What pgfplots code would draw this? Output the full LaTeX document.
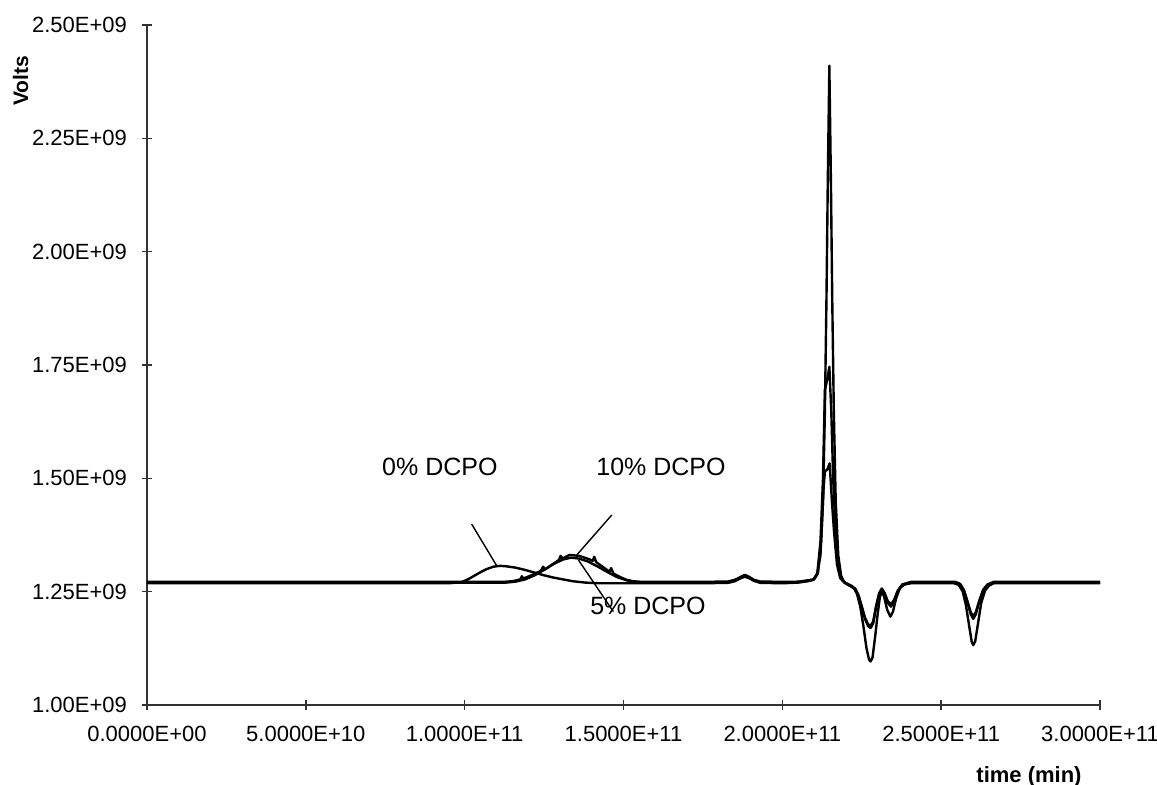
\documentclass[border=0pt]{standalone}
\usepackage{pgfplots}
\pgfplotsset{compat=1.18}
\usepackage{fontspec}
\setmainfont{Liberation Sans}
\begin{document}
\begin{tikzpicture}
\begin{axis}[
  scale only axis,
  width=476.5pt, height=340pt,
  xmin=0, xmax=300, ymin=1.0, ymax=2.5,
  axis lines=left,
  axis line style={-, line width=0.7pt, black!80},
  xtick={0,50,100,150,200,250,300},
  xticklabels={0.0000E+00,5.0000E+10,1.0000E+11,1.5000E+11,2.0000E+11,2.5000E+11,3.0000E+11},
  ytick={1.0,1.25,1.5,1.75,2.0,2.25,2.5},
  yticklabels={1.00E+09,1.25E+09,1.50E+09,1.75E+09,2.00E+09,2.25E+09,2.50E+09},
  tick align=center,
  major tick length=5pt,
  tick style={line width=0.7pt, black!80},
  ticklabel style={font=\fontsize{11}{13}\selectfont},
  yticklabel style={xshift=-4pt},
  xticklabel style={yshift=-4.5pt},
  /pgf/number format/assume math mode=true,
  clip=false,
]
% 0% DCPO
\addplot[black, line width=1.2pt, line join=round] coordinates {
(0,1.2685) (50,1.2685) (95,1.2685) (99,1.271) (101,1.277) (103,1.285) (105,1.293) (107,1.300) (109,1.305) (111,1.307) (113,1.306) (116,1.303) (119,1.298) (122,1.292) (125,1.286) (128,1.281) (131,1.277) (134,1.273) (138,1.270) (142,1.2685) (150,1.2685) (160,1.2685) (175,1.2685) (183,1.2695) (185,1.273) (187,1.280) (188.2,1.283) (189.5,1.280) (191,1.274) (193,1.2695) (200,1.2685) (205,1.270) (208,1.273) (209.8,1.276) (211,1.29) (212,1.33) (212.8,1.45) (213.4,1.65) (213.9,1.9) (214.3,2.15) (214.8,2.41) (215.3,2.15) (215.7,1.9) (216.2,1.65) (216.8,1.45) (217.6,1.33) (218.5,1.285) (219.5,1.27) (221.5,1.262) (222.5,1.258) (223.5,1.245) (224.5,1.218) (225.5,1.175) (226.5,1.125) (227.3,1.1) (227.8,1.096) (228.4,1.105) (229.2,1.15) (230,1.2) (230.7,1.238) (231.3,1.25) (232,1.24) (233,1.21) (234,1.195) (234.8,1.205) (235.8,1.235) (237,1.258) (238.5,1.266) (240.5,1.2685) (254,1.2685) (255.5,1.265) (256.8,1.25) (257.8,1.22) (258.8,1.175) (259.6,1.14) (260.1,1.132) (260.7,1.14) (261.6,1.18) (262.6,1.225) (263.8,1.252) (265,1.263) (266.5,1.2685) (270,1.2685) (300,1.2685)
};
% 5% DCPO
\addplot[black, line width=1.2pt, line join=round] coordinates {
(0,1.270) (100,1.270) (113,1.270) (116,1.272) (119,1.277) (122,1.286) (125,1.298) (128,1.311) (131,1.321) (133.5,1.325) (136,1.323) (139,1.316) (142,1.305) (145,1.293) (148,1.282) (151,1.275) (154,1.271) (158,1.270) (175,1.270) (183,1.271) (185,1.275) (187,1.283) (188.2,1.287) (189.5,1.283) (191,1.276) (193,1.271) (200,1.270) (205,1.271) (208,1.274) (209.8,1.277) (211,1.29) (212,1.36) (212.8,1.5) (213.4,1.695) (214.2,1.72) (214.8,1.746) (215.4,1.65) (216,1.5) (216.8,1.38) (217.8,1.3) (218.8,1.275) (220,1.268) (221.8,1.261) (223,1.255) (224,1.24) (225,1.215) (226,1.19) (227,1.174) (227.8,1.170) (228.6,1.18) (229.5,1.215) (230.5,1.245) (231.3,1.255) (232.2,1.245) (233.2,1.225) (234.2,1.217) (235.2,1.228) (236.3,1.25) (237.8,1.265) (240.5,1.270) (254.5,1.270) (256,1.266) (257.2,1.252) (258.3,1.228) (259.3,1.205) (260.1,1.195) (260.9,1.205) (262,1.23) (263.2,1.253) (264.6,1.265) (266.5,1.270) (270,1.270) (300,1.270)
};
% 10% DCPO
\addplot[black, line width=1.2pt, line join=round] coordinates {
(0,1.2715) (100,1.2715) (112,1.2715) (115,1.273) (117.5,1.277) (118,1.284) (118.5,1.279) (121,1.286) (124,1.296) (124.7,1.305) (125.3,1.299) (128,1.312) (129.7,1.320) (130.2,1.329) (130.8,1.323) (133,1.331) (136,1.329) (139,1.322) (140.3,1.318) (140.8,1.327) (141.4,1.315) (144,1.302) (145.6,1.294) (146.1,1.302) (146.8,1.290) (149,1.282) (151,1.276) (153,1.273) (156,1.2715) (175,1.2715) (183,1.2725) (185,1.276) (187,1.282) (188.2,1.286) (189.5,1.282) (191,1.276) (193,1.2725) (200,1.2715) (205,1.272) (208,1.275) (210,1.277) (211.2,1.29) (212.2,1.36) (213,1.48) (213.4,1.515) (214.2,1.52) (214.9,1.533) (215.6,1.45) (216.3,1.38) (217.2,1.31) (218.2,1.28) (219.5,1.271) (221.8,1.263) (223,1.256) (224,1.242) (225,1.218) (226,1.193) (227,1.178) (227.8,1.175) (228.6,1.184) (229.5,1.218) (230.5,1.247) (231.3,1.257) (232.2,1.247) (233.2,1.229) (234.2,1.222) (235.2,1.232) (236.3,1.252) (237.8,1.266) (240.5,1.2715) (254.5,1.2715) (256,1.267) (257.2,1.253) (258.3,1.226) (259.3,1.2) (260.1,1.19) (260.9,1.2) (262,1.228) (263.2,1.254) (264.6,1.266) (266.5,1.2715) (270,1.2715) (300,1.2715)
};
\draw[black, line width=0.7pt] (axis cs:102.2,1.399) -- (axis cs:110.1,1.307);
\draw[black, line width=0.7pt] (axis cs:146.3,1.419) -- (axis cs:135.3,1.331);
\draw[black, line width=0.7pt] (axis cs:135.8,1.320) -- (axis cs:146.8,1.206);
\node[font=\fontsize{12.5}{15}\selectfont] at (axis cs:92.2,1.525) {0\% DCPO};
\node[font=\fontsize{12.5}{15}\selectfont] at (axis cs:161.8,1.525) {10\% DCPO};
\node[font=\fontsize{12.5}{15}\selectfont] at (axis cs:157.7,1.218) {5\% DCPO};
\end{axis}
\node[rotate=90, font=\bfseries\fontsize{10.5}{12}\selectfont] at (-63.2pt,312pt) {Volts};
\node[font=\bfseries\fontsize{11}{13}\selectfont] at (441pt,-36pt) {time (min)};
\pgfresetboundingbox
\path[use as bounding box] (-73.5pt,-40pt) rectangle (505pt,352.5pt);
\end{tikzpicture}
\end{document}
